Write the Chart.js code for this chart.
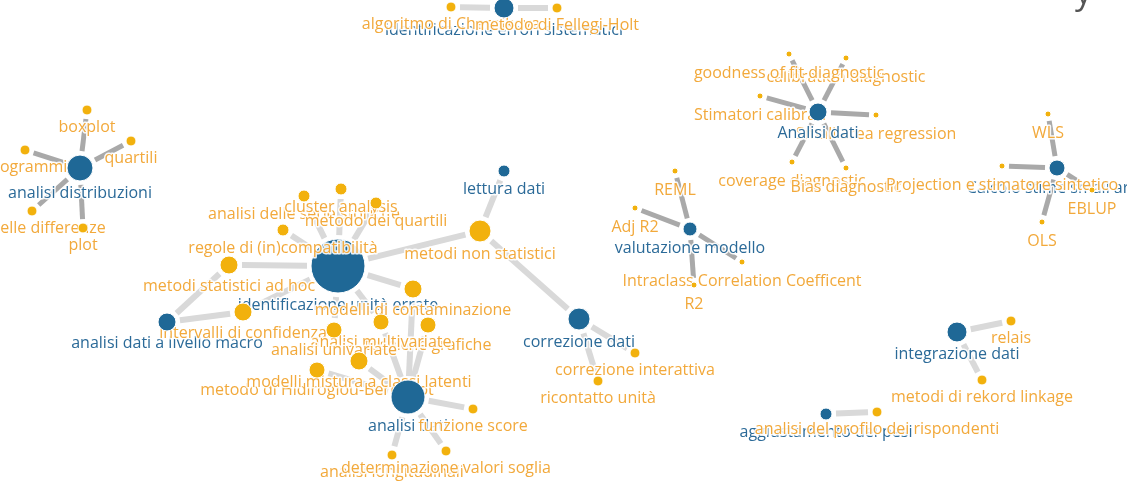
<!DOCTYPE html>
<html>
<head>
<meta charset="utf-8">
<script src="https://cdn.jsdelivr.net/npm/chart.js@4.4.0/dist/chart.umd.min.js"></script>
<style>
  html, body { margin: 0; padding: 0; background: #ffffff; }
  #wrap { width: 1127px; height: 491px; }
</style>
</head>
<body>
<div id="wrap"><canvas id="rete" width="1127" height="491"></canvas></div>
<script>
// --- Nodi della rete (posizioni, in pixel) ---
const nodeNames = [
  'identificazione unità errate', 'analisi dati a livello macro', 'analisi dati',
  'lettura dati', 'correzione dati', 'analisi distribuzioni', 'identificazione errori sistematici',
  'valutazione modello', 'Analisi dati', 'Calcolo stime small area', 'integrazione dati',
  'aggiustamento dei pesi',
  'metodi non statistici', 'regole di (in)compatibilità', 'analisi delle serie storiche',
  'cluster analysis', 'metodo dei quartili', 'metodi statistici ad hoc', 'intervalli di confidenza',
  'modelli di contaminazione', 'analisi multivariate', 'tecniche grafiche', 'analisi univariate',
  'modelli mistura a classi latenti', 'metodo di Hidiroglou-Berthelot', 'funzione score',
  'determinazione valori soglia', 'analisi longitudinali', 'correzione interattiva', 'ricontatto unità',
  'boxplot', 'quartili', 'istogrammi', 'test delle differenze', 'plot',
  'algoritmo di Chernikova', 'metodo di Fellegi-Holt',
  'REML', 'Adj R2', 'Intraclass Correlation Coefficent', 'R2',
  'goodness of fit diagnostic', 'calibration diagnostic', 'Stimatori calibrati',
  'Small area regression', 'coverage diagnostic', 'Bias diagnostic',
  'WLS', 'OLS', 'Projection e stimatore sintetico', 'EBLUP',
  'relais', 'metodi di rekord linkage', 'analisi del profilo dei rispondenti'
];
const nodeX = [
  338, 167, 408, 504, 579, 80, 504, 690, 818, 1057, 957, 826,
  480, 283, 304, 341, 376, 229, 243, 413, 381, 428, 334, 359, 317, 473, 446, 392, 635, 598,
  87, 131, 25, 32, 83, 451, 557,
  675, 635, 742, 694,
  789, 846, 760, 876, 792, 846,
  1048, 1042, 1002, 1092,
  1011, 982, 877
];
const nodeY = [
  266, 322, 397, 171, 319, 168, 8, 229, 112, 168, 332, 414,
  231, 230, 196, 189, 203, 265, 312, 289, 322, 325, 330, 361, 370, 409, 451, 455, 353, 381,
  110, 141, 150, 211, 228, 7, 8,
  171, 208, 262, 285,
  54, 58, 96, 115, 162, 168,
  114, 222, 166, 190,
  321, 380, 412
];
const nodeSize = [
  27, 9, 17, 6, 11, 13, 10, 7, 9, 8, 10, 6,
  11, 6, 6, 6, 6, 9, 9, 9, 8, 8, 8, 9, 8, 5, 5, 5, 5, 5,
  5, 5, 5, 5, 5, 5, 5,
  3, 3, 3, 3,
  3, 3, 3, 3, 3, 3,
  3, 3, 3, 3,
  5, 5, 5
];
// i primi 12 nodi sono aree (blu), gli altri metodi (giallo)
const nAree = 12;

// ordine in cui si sovrappongono le etichette (l'ultima sta sopra)
const labelOrder = [
  0, 1, 2, 3, 4, 5, 6, 7, 9, 10, 11,
  12, 14, 15, 16, 17, 18, 19, 21, 20, 22, 24, 23, 25, 27, 26, 28, 29,
  30, 31, 32, 33, 34, 35, 36, 37, 38, 39, 40,
  42, 41, 43, 44, 8, 45, 46, 47, 48, 49, 50, 51, 52, 53
];
// etichette disegnate sopra i nodi
const labelsOnTop = [13];

// --- Archi: coppie di indici e peso (1 = chiaro, 2 = scuro) ---
const edgeFrom = [
  0, 0, 0, 0, 0, 0, 0, 0, 0, 0,
  1, 1,
  12, 12, 4, 4,
  2, 2, 2, 2, 2, 2, 2, 2,
  5, 5, 5, 5, 5,
  6, 6,
  7, 7, 7, 7,
  8, 8, 8, 8, 8, 8,
  9, 9, 9, 9,
  10, 10, 11
];
const edgeTo = [
  13, 14, 15, 16, 17, 12, 19, 20, 22, 18,
  17, 18,
  3, 4, 28, 29,
  19, 20, 21, 23, 24, 25, 26, 27,
  30, 31, 32, 33, 34,
  35, 36,
  37, 38, 39, 40,
  41, 42, 43, 44, 45, 46,
  47, 48, 49, 50,
  51, 52, 53
];
const edgeWeight = [
  1, 1, 1, 1, 1, 1, 1, 1, 1, 1,
  1, 1,
  1, 1, 1, 1,
  1, 1, 1, 1, 1, 1, 1, 1,
  2, 2, 2, 2, 2,
  1, 1,
  2, 2, 2, 2,
  2, 2, 2, 2, 2, 2,
  2, 2, 2, 2,
  1, 1, 1
];

const BLU = '#1f6896';
const GIALLO = '#f2b10d';
const BLU_TESTO = '#2b6a98';
const GIALLO_TESTO = '#f2a93b';

const isArea = (i) => i < nAree;

function disegnaEtichetta(ctx, x, y, i) {
  const px = x.getPixelForValue(nodeX[i]);
  const py = y.getPixelForValue(nodeY[i]) + nodeSize[i] + (nodeSize[i] <= 3 ? 16 : 12);
  ctx.lineWidth = 3;
  ctx.strokeStyle = 'rgba(255,255,255,0.9)';
  ctx.strokeText(nodeNames[i], px, py);
  ctx.fillStyle = isArea(i) ? BLU_TESTO : GIALLO_TESTO;
  ctx.fillText(nodeNames[i], px, py);
}

function impostaFont(ctx) {
  ctx.font = '16px "Open Sans", "Noto Sans", sans-serif';
  ctx.textAlign = 'center';
  ctx.textBaseline = 'middle';
  ctx.lineJoin = 'round';
}

const pluginArchi = {
  id: 'archi',
  beforeDatasetsDraw(chart) {
    const { ctx, scales: { x, y } } = chart;
    ctx.save();
    ctx.lineCap = 'butt';
    for (let k = 0; k < edgeFrom.length; k++) {
      const a = edgeFrom[k], b = edgeTo[k];
      const x1 = x.getPixelForValue(nodeX[a]), y1 = y.getPixelForValue(nodeY[a]);
      const x2 = x.getPixelForValue(nodeX[b]), y2 = y.getPixelForValue(nodeY[b]);
      const len = Math.hypot(x2 - x1, y2 - y1);
      const ux = (x2 - x1) / len, uy = (y2 - y1) / len;
      const g1 = nodeSize[a] + 4, g2 = nodeSize[b] + 4;
      ctx.strokeStyle = edgeWeight[k] === 2 ? '#a9a9a9' : '#d9d9d9';
      ctx.lineWidth = edgeWeight[k] === 2 ? 5 : 6;
      ctx.beginPath();
      ctx.moveTo(x1 + ux * g1, y1 + uy * g1);
      ctx.lineTo(x2 - ux * g2, y2 - uy * g2);
      ctx.stroke();
    }
    // etichette sotto i nodi
    impostaFont(ctx);
    labelOrder.forEach(i => disegnaEtichetta(ctx, x, y, i));
    ctx.restore();
  }
};

const pluginEtichette = {
  id: 'etichette',
  afterDatasetsDraw(chart) {
    const { ctx, scales: { x, y } } = chart;
    ctx.save();
    impostaFont(ctx);
    labelsOnTop.forEach(i => disegnaEtichetta(ctx, x, y, i));
    // resto del titolo, tagliato in alto a destra
    ctx.font = '34px "Open Sans", "Noto Sans", sans-serif';
    ctx.textAlign = 'left';
    ctx.textBaseline = 'alphabetic';
    ctx.fillStyle = '#555555';
    ctx.fillText('y', 1075, 4);
    ctx.restore();
  }
};

new Chart(document.getElementById('rete'), {
  type: 'scatter',
  data: {
    datasets: [{
      data: nodeX.map((v, i) => ({ x: v, y: nodeY[i] })),
      pointRadius: (c) => nodeSize[c.dataIndex],
      pointBackgroundColor: (c) => isArea(c.dataIndex) ? BLU : GIALLO,
      pointBorderColor: '#ffffff',
      pointBorderWidth: 1,
      clip: false
    }]
  },
  options: {
    responsive: false,
    devicePixelRatio: 1,
    animation: false,
    events: [],
    layout: { padding: 0, autoPadding: false },
    plugins: { legend: { display: false }, tooltip: { enabled: false } },
    scales: {
      x: { type: 'linear', min: 0, max: 1127, display: false },
      y: { type: 'linear', min: 0, max: 491, reverse: true, display: false }
    }
  },
  plugins: [pluginArchi, pluginEtichette]
});
</script>
</body>
</html>
